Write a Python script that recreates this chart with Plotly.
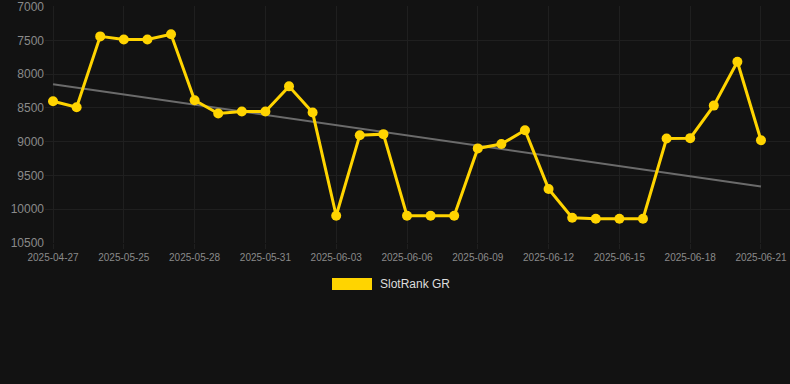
import numpy as np
import plotly.graph_objects as go

dates = ["2025-04-27", "2025-05-23", "2025-05-24", "2025-05-25", "2025-05-26", "2025-05-27",
         "2025-05-28", "2025-05-29", "2025-05-30", "2025-05-31", "2025-06-01", "2025-06-02",
         "2025-06-03", "2025-06-04", "2025-06-05", "2025-06-06", "2025-06-07", "2025-06-08",
         "2025-06-09", "2025-06-10", "2025-06-11", "2025-06-12", "2025-06-13", "2025-06-14",
         "2025-06-15", "2025-06-16", "2025-06-17", "2025-06-18", "2025-06-19", "2025-06-20",
         "2025-06-21"]
rank = [8400, 8490, 7440, 7487, 7487, 7408, 8386, 8583, 8553, 8553, 8180, 8568,
        10097, 8903, 8888, 10097, 10097, 10097, 9099, 9035, 8829, 9699, 10127, 10141,
        10141, 10141, 8952, 8947, 8465, 7816, 8978]
series_name = "SlotRank GR"
y_ticks = [7000, 7500, 8000, 8500, 9000, 9500, 10000, 10500]

idx = np.arange(len(rank))
slope, intercept = np.polyfit(idx, rank, 1)
trend = slope * idx + intercept

fig = go.Figure()
fig.add_trace(go.Scatter(
    x=dates, y=trend, mode="lines",
    line=dict(color="#6b6b6b", width=2), showlegend=False, hoverinfo="skip"))
fig.add_trace(go.Scatter(
    x=dates, y=rank, mode="lines+markers", name=series_name,
    line=dict(color="#FFD400", width=3),
    marker=dict(color="#FFD400", size=10), showlegend=False, cliponaxis=False))

fig.update_layout(
    width=790, height=384,
    margin=dict(l=45, r=0, t=6, b=141, autoexpand=False),
    paper_bgcolor="#121212", plot_bgcolor="#121212",
    font=dict(family="Liberation Sans, Arial, sans-serif", color="#8a8a8a"),
    xaxis=dict(type="category", range=[-0.34, 31.23],
               tickvals=dates[::3], ticktext=dates[::3],
               showgrid=True, gridcolor="#1f1f1f", gridwidth=1,
               zeroline=False, showline=False,
               ticks="outside", ticklen=5, tickcolor="#1f1f1f",
               tickfont=dict(size=10, color="#8a8a8a")),
    yaxis=dict(range=[10500, 6990], tickmode="array", tickvals=y_ticks,
               ticktext=[str(v) for v in y_ticks], ticklabeloverflow="allow",
               showgrid=True, gridcolor="#1f1f1f", gridwidth=1,
               zeroline=False, showline=False, ticks="",
               tickfont=dict(size=12, color="#8a8a8a")),
    shapes=[dict(type="rect", xref="paper", yref="paper",
                 x0=(332 - 45) / 745, x1=(372 - 45) / 745,
                 y0=(384 - 141 - 290) / 237, y1=(384 - 141 - 278) / 237,
                 fillcolor="#FFD400", line=dict(width=0))],
    annotations=[dict(text=series_name, xref="paper", yref="paper",
                      x=(378 - 45) / 745, y=(384 - 141 - 284) / 237,
                      xanchor="left", yanchor="middle", showarrow=False,
                      font=dict(size=12, color="#dddddd"))],
)

fig.write_html("out.html", config={"displayModeBar": False},
               post_script="document.body.style.margin='0';document.body.style.background='#121212';")
